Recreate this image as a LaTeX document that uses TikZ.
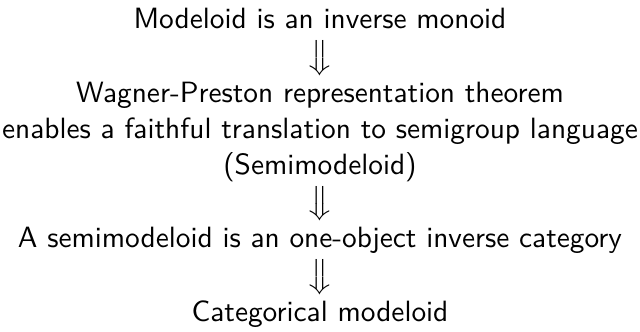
\documentclass[tikz,border=0pt]{standalone}
\usetikzlibrary{positioning, calc}
\tikzset{
  stmt/.style={align=center, font=\fontsize{10pt}{12.3pt}\selectfont\sffamily, inner sep=0pt},
  impl/.style={inner sep=0pt}
}
\newcommand{\bigimpl}{\smash{\raisebox{-2.5pt}{$\big\Downarrow$}}}
\begin{document}
\begin{tikzpicture}[node distance=12.3pt]
\node[stmt] (inv) {\strut Modeloid is an inverse monoid};
\node[stmt, below=of inv] (wp) {\strut Wagner-Preston representation theorem\\enables a faithful translation to semigroup language\\(Semimodeloid)\strut};
\node[stmt, below=of wp] (cat) {\strut A semimodeloid is an one-object inverse category};
\node[stmt, below=of cat] (cm) {\strut Categorical modeloid};
\path (inv.south) -- node[impl] {\bigimpl} (wp.north);
\path (wp.south) -- node[impl] {\bigimpl} (cat.north);
\path (cat.south) -- node[impl] {\bigimpl} (cm.north);
% fixed frame, as in the reference
\useasboundingbox ($(inv.base)+(-109.06pt,9.8pt)$) rectangle ($(cm.base)+(109.06pt,-1.2pt)$);
\end{tikzpicture}
\end{document}
